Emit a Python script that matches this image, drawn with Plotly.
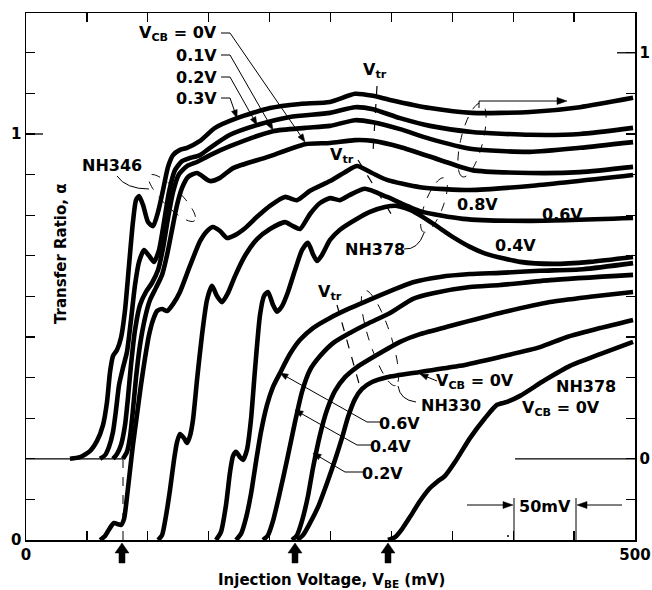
import numpy as np
import plotly.graph_objects as go

# ---------------- data: injection voltage V_BE (mV) vs transfer ratio alpha ----------------
# NH346 family (read against the right-hand axis)
v346_03 = [36.1, 44.3, 52.5, 58.3, 63.2, 66.5, 69.0, 71.4, 74.7, 78.0, 81.3, 84.6, 87.8, 90.3, 92.8, 96.1, 100.2, 104.3, 108.4, 112.5, 116.6, 120.7, 126.4, 132.2, 142.9, 155.2, 173.2, 200.3, 225.0, 249.6, 270.1, 284.9, 298.9, 331.7, 366.2, 413.8, 454.8, 498.4]
a346_03 = [0.0, 0.004, 0.019, 0.044, 0.083, 0.140, 0.214, 0.253, 0.268, 0.298, 0.366, 0.477, 0.583, 0.637, 0.647, 0.625, 0.583, 0.573, 0.608, 0.662, 0.719, 0.748, 0.761, 0.766, 0.783, 0.815, 0.839, 0.864, 0.874, 0.879, 0.899, 0.894, 0.884, 0.864, 0.852, 0.854, 0.866, 0.889]

v346_02 = [60.8, 64.9, 68.1, 71.4, 73.9, 76.4, 79.6, 82.9, 86.2, 89.5, 92.8, 96.9, 101.0, 105.1, 109.2, 113.3, 117.4, 122.3, 128.1, 134.6, 142.9, 151.1, 167.5, 189.7, 216.7, 249.6, 270.1, 284.9, 307.1, 331.7, 366.2, 413.8, 454.8, 498.4]
a346_02 = [0.0, 0.009, 0.029, 0.066, 0.120, 0.182, 0.224, 0.263, 0.342, 0.428, 0.485, 0.514, 0.500, 0.485, 0.514, 0.583, 0.657, 0.711, 0.733, 0.741, 0.748, 0.766, 0.798, 0.822, 0.842, 0.852, 0.866, 0.861, 0.839, 0.820, 0.805, 0.798, 0.800, 0.815]

v346_01 = [71.4, 74.7, 78.0, 81.3, 83.7, 86.2, 89.5, 93.6, 98.5, 103.4, 108.4, 112.5, 116.6, 120.7, 125.6, 132.2, 140.4, 151.1, 167.5, 202.8, 229.1, 249.6, 270.1, 284.9, 307.1, 331.7, 366.2, 413.8, 454.8, 498.4]
a346_01 = [0.0, 0.012, 0.034, 0.083, 0.150, 0.231, 0.317, 0.379, 0.411, 0.433, 0.465, 0.519, 0.593, 0.657, 0.701, 0.721, 0.731, 0.748, 0.770, 0.807, 0.815, 0.820, 0.834, 0.829, 0.812, 0.788, 0.763, 0.756, 0.766, 0.780]

v346_00 = [79.6, 82.9, 85.4, 87.8, 90.3, 93.6, 97.7, 101.8, 106.7, 111.7, 115.8, 119.9, 124.0, 128.1, 133.0, 140.4, 151.1, 159.3, 170.0, 197.9, 229.1, 249.6, 270.1, 284.9, 307.1, 339.9, 366.2, 413.8, 454.8, 498.4]
a346_00 = [0.0, 0.017, 0.054, 0.120, 0.199, 0.280, 0.347, 0.391, 0.421, 0.453, 0.502, 0.564, 0.625, 0.667, 0.694, 0.704, 0.684, 0.692, 0.716, 0.743, 0.775, 0.778, 0.785, 0.783, 0.768, 0.736, 0.711, 0.704, 0.706, 0.719]

# NH378 family (left-hand axis)
v378_08 = [60.8, 64.9, 69.0, 72.2, 75.5, 78.0, 80.5, 82.9, 85.4, 87.8, 91.1, 94.4, 97.7, 101.0, 104.3, 107.6, 111.7, 115.8, 120.7, 126.4, 134.6, 142.9, 148.6, 153.5, 159.3, 165.0, 171.6, 179.8, 189.7, 200.3, 212.6, 222.5, 233.2, 249.6, 261.9, 271.8, 284.1, 296.4, 323.5, 364.5, 413.8, 498.4]
a378_08 = [0.0, 0.010, 0.030, 0.042, 0.039, 0.037, 0.052, 0.106, 0.172, 0.234, 0.308, 0.382, 0.448, 0.505, 0.542, 0.564, 0.569, 0.564, 0.581, 0.611, 0.675, 0.736, 0.761, 0.771, 0.761, 0.744, 0.751, 0.768, 0.796, 0.823, 0.845, 0.837, 0.860, 0.884, 0.906, 0.921, 0.904, 0.887, 0.869, 0.862, 0.872, 0.899]

v378_06 = [108.4, 111.7, 114.9, 118.2, 121.5, 124.0, 126.4, 129.7, 132.2, 134.6, 137.1, 140.4, 144.5, 148.6, 152.7, 156.8, 160.9, 165.8, 171.6, 179.8, 189.7, 200.3, 212.6, 219.2, 225.0, 233.2, 241.4, 249.6, 257.8, 266.0, 278.3, 296.4, 323.5, 358.8, 413.8, 498.4]
a378_06 = [0.0, 0.012, 0.059, 0.123, 0.197, 0.241, 0.261, 0.251, 0.239, 0.256, 0.296, 0.394, 0.505, 0.591, 0.626, 0.601, 0.586, 0.608, 0.650, 0.700, 0.741, 0.766, 0.783, 0.773, 0.766, 0.803, 0.830, 0.842, 0.837, 0.850, 0.865, 0.845, 0.810, 0.791, 0.786, 0.793]

v378_04 = [156.0, 160.1, 164.2, 167.5, 170.0, 172.4, 175.7, 178.2, 181.4, 184.7, 188.0, 192.1, 195.4, 198.7, 202.8, 206.1, 210.2, 215.1, 220.9, 226.6, 231.5, 235.6, 238.9, 243.0, 249.6, 257.8, 270.1, 282.4, 294.7, 304.6, 315.3, 323.5, 335.8, 350.6, 364.5, 378.5, 405.6, 432.7, 463.1, 498.4]
a378_04 = [0.0, 0.020, 0.086, 0.167, 0.207, 0.217, 0.204, 0.197, 0.222, 0.296, 0.419, 0.554, 0.601, 0.611, 0.579, 0.562, 0.576, 0.611, 0.665, 0.714, 0.732, 0.704, 0.687, 0.702, 0.739, 0.764, 0.788, 0.808, 0.820, 0.823, 0.813, 0.800, 0.776, 0.746, 0.722, 0.704, 0.685, 0.680, 0.685, 0.697]

v378_00 = [297.2, 303.0, 308.7, 315.3, 323.5, 331.7, 337.4, 344.0, 352.2, 364.5, 376.8, 386.7, 394.9, 405.6, 426.1, 446.6, 471.3, 498.4]
a378_00 = [0.0, 0.007, 0.027, 0.057, 0.096, 0.128, 0.143, 0.158, 0.192, 0.251, 0.300, 0.333, 0.340, 0.355, 0.394, 0.429, 0.458, 0.488]

# NH330 family (left-hand axis)
v330_06 = [172.4, 176.5, 180.6, 184.7, 188.8, 192.9, 197.9, 202.8, 208.5, 216.7, 225.0, 235.6, 249.6, 266.0, 280.0, 298.9, 317.7, 339.9, 364.5, 389.2, 422.0, 457.3, 498.4]
a330_06 = [0.0, 0.015, 0.054, 0.113, 0.192, 0.266, 0.333, 0.377, 0.411, 0.458, 0.493, 0.522, 0.547, 0.571, 0.589, 0.613, 0.635, 0.648, 0.655, 0.658, 0.663, 0.667, 0.682]

v330_04 = [194.6, 198.7, 202.8, 208.5, 214.3, 220.9, 226.6, 233.2, 241.4, 252.1, 266.0, 280.0, 298.9, 317.7, 334.2, 364.5, 389.2, 430.2, 498.4]
a330_04 = [0.0, 0.012, 0.047, 0.118, 0.197, 0.291, 0.365, 0.419, 0.453, 0.485, 0.510, 0.532, 0.559, 0.594, 0.608, 0.623, 0.628, 0.640, 0.653]

v330_02 = [218.4, 222.5, 226.6, 231.5, 235.6, 241.4, 247.1, 253.7, 261.9, 271.8, 286.5, 307.1, 323.5, 348.1, 389.2, 430.2, 463.1, 498.4]
a330_02 = [0.0, 0.012, 0.047, 0.108, 0.177, 0.259, 0.320, 0.367, 0.401, 0.426, 0.453, 0.488, 0.507, 0.527, 0.559, 0.586, 0.599, 0.611]

v330_00 = [222.5, 227.4, 233.2, 239.7, 247.1, 253.7, 259.4, 264.4, 270.1, 275.9, 284.1, 296.4, 323.5, 356.3, 389.2, 422.0, 444.2, 471.3, 498.4]
a330_00 = [0.0, 0.012, 0.042, 0.081, 0.140, 0.197, 0.251, 0.303, 0.347, 0.372, 0.389, 0.401, 0.414, 0.429, 0.451, 0.475, 0.500, 0.522, 0.542]

x_labelled = [0, 500]
x_ticklabels = ["0", "500"]
x_step = 50
y_labelled = [0, 1]
y_ticklabels = ["0", "1"]
y_step = 0.1

# ---------------- figure ----------------
# plotting area at page pixels x 26..635, y 13..540 (body margin removed via post_script)
PL, PR, PT, PB = 26, 635, 13, 540
W, H = 652, 590
XMAX = 500.0
YL = (0.0, 1.298)
YR = (-0.2, 1.098)

# layout helpers: page pixel -> data / paper coordinates (for annotations only)
def X(px):
    return (px - PL) / (PR - PL) * XMAX

def Y(py):
    return (PB - py) / (PB - PT) * (YL[1] - YL[0])

def PX(px):
    return (px - PL) / (PR - PL)

def PY(py):
    return (PB - py) / (PB - PT)

LW = 4.6
fig = go.Figure()
curves = [
    (v346_03, a346_03, "y2"), (v346_02, a346_02, "y2"), (v346_01, a346_01, "y2"), (v346_00, a346_00, "y2"),
    (v378_08, a378_08, "y"), (v378_06, a378_06, "y"), (v378_04, a378_04, "y"), (v378_00, a378_00, "y"),
    (v330_06, a330_06, "y"), (v330_04, a330_04, "y"), (v330_02, a330_02, "y"), (v330_00, a330_00, "y"),
]
for xs, ys, ax in curves:
    fig.add_trace(go.Scatter(x=xs, y=ys, yaxis=ax, mode="lines", hoverinfo="skip",
                             line=dict(color="black", width=LW, shape="spline", smoothing=0.6)))

FONT = dict(family="DejaVu Sans", size=15, color="black")
ann = []
shapes = []

def text(px, py, s, xanchor="center", size=16, angle=0):
    ann.append(dict(x=X(px), y=Y(py), xref="x", yref="y", text="<b>%s</b>" % s, showarrow=False,
                    xanchor=xanchor, yanchor="middle", textangle=angle,
                    font=dict(family="DejaVu Sans", size=size, color="black")))

def seg(x0, y0, x1, y1, dash="solid", width=1):
    shapes.append(dict(type="line", xref="x", yref="y", x0=X(x0), y0=Y(y0), x1=X(x1), y1=Y(y1),
                       line=dict(color="black", width=width, dash=dash)))

def arrow(tx, ty, hx, hy, hl=8.0, hw=3.0):
    d = np.array([hx - tx, hy - ty], dtype=float)
    d /= np.hypot(*d)
    n = np.array([-d[1], d[0]])
    bx, by = hx - d[0] * hl, hy - d[1] * hl
    seg(tx, ty, bx + d[0] * 1.5, by + d[1] * 1.5)
    pts = [(hx, hy), (bx + n[0] * hw, by + n[1] * hw), (bx - n[0] * hw, by - n[1] * hw)]
    path = "M " + " L ".join("%f,%f" % (X(u), Y(v)) for u, v in pts) + " Z"
    shapes.append(dict(type="path", xref="x", yref="y", path=path, fillcolor="black",
                       line=dict(color="black", width=0.5)))

def curve(p0, c, p1):
    shapes.append(dict(type="path", xref="x", yref="y",
                       path="M %f,%f Q %f,%f %f,%f" % (X(p0[0]), Y(p0[1]), X(c[0]), Y(c[1]), X(p1[0]), Y(p1[1])),
                       line=dict(color="black", width=1)))

def oval(cx, cy, a, b, deg):
    t = np.linspace(0, 2 * np.pi, 73)
    th = np.radians(deg)
    px = cx + a * np.cos(t) * np.cos(th) - b * np.sin(t) * np.sin(th)
    py = cy + a * np.cos(t) * np.sin(th) + b * np.sin(t) * np.cos(th)
    path = "M " + " L ".join("%f,%f" % (X(u), Y(v)) for u, v in zip(px, py)) + " Z"
    shapes.append(dict(type="path", xref="x", yref="y", path=path,
                       line=dict(color="black", width=1, dash="dash")))

# top-left V_CB labels for NH346 with leaders
for s, py, tip in [("V<sub>CB</sub> = 0V", 33, (305, 142)), ("0.1V", 55, (273, 130)),
                   ("0.2V", 77, (257, 125)), ("0.3V", 98, (237, 118))]:
    text(219, py, s, xanchor="right")
    seg(221, py, 230, py)
    arrow(230, py, tip[0], tip[1])

# NH346 label + oval
text(112, 165, "NH346")
curve((117, 176), (126, 189), (149, 189))
oval(172, 198, 32, 9, 45)

# V_tr markers
text(375, 70, "V<sub>tr</sub>")
seg(377, 86, 373, 152, dash="dash", width=1.2)
text(342, 155, "V<sub>tr</sub>")
seg(358, 160, 393, 217, dash="dash", width=1.2)
text(330, 292, "V<sub>tr</sub>")
seg(337, 305, 360, 387, dash="dash", width=1.2)

# right oval with arrow to right axis
oval(472, 140, 38, 11, 104)
seg(479, 108, 479, 101)
arrow(479, 101, 567, 101, hl=10, hw=3.5)

# NH378 oval and labels
oval(434, 205, 29, 9, 111)
text(375, 249, "NH378")
curve((404, 249), (418, 250), (424, 233))
text(477, 204, "0.8V")
text(562, 214, "0.6V")
text(515, 245, "0.4V")

# NH330 oval and labels
oval(380, 338, 50, 11, 72)
text(451, 405, "NH330")
curve((398, 386), (400, 400), (416, 402))
text(475, 381, "V<sub>CB</sub> = 0V")
arrow(437, 381, 420, 374)
for s, cx, py, x0, x1, tip in [("0.6V", 399, 423, 367, 381, (280, 373)),
                               ("0.4V", 390, 446, 357, 372, (295, 410)),
                               ("0.2V", 382, 473, 345, 364, (313, 453))]:
    text(cx, py, s)
    seg(x0, py - 1, x1, py - 1)
    arrow(x0, py - 1, tip[0], tip[1])

# NH378 V_CB = 0 label
text(586, 386, "NH378")
text(561, 408, "V<sub>CB</sub> = 0V")

# 50 mV scale marker
text(545, 506, "50mV")
seg(514, 498, 514, 540)
seg(576, 498, 576, 540)
arrow(467, 505, 513, 505, hl=10, hw=3.5)
arrow(622, 505, 577, 505, hl=10, hw=3.5)
shapes.append(dict(type="circle", xref="x", yref="y", x0=X(507), x1=X(509), y0=Y(537), y1=Y(535),
                   fillcolor="black", line=dict(width=0)))

# baselines for the NH346 (right-axis zero) and onset markers
shapes.append(dict(type="line", xref="x", yref="y2", x0=0, x1=X(123), y0=0, y1=0,
                   line=dict(color="black", width=1.3)))
shapes.append(dict(type="line", xref="x", yref="y2", x0=X(515), x1=XMAX, y0=0, y1=0,
                   line=dict(color="black", width=1.3)))
seg(123, 459, 123, 540, dash="dash", width=1)
# long ticks at "1"
shapes.append(dict(type="line", xref="x", yref="y", x0=0, x1=X(43), y0=1, y1=1,
                   line=dict(color="black", width=1.3)))
shapes.append(dict(type="line", xref="x", yref="y2", x0=X(617), x1=XMAX, y0=1, y1=1,
                   line=dict(color="black", width=1.3)))

# onset arrows below the axis
for cx in (122, 295, 388):
    pts = [(cx, 543), (cx + 7, 553), (cx + 3, 553), (cx + 3, 563), (cx - 3, 563), (cx - 3, 553), (cx - 7, 553)]
    path = "M " + " L ".join("%f,%f" % (PX(u), PY(v)) for u, v in pts) + " Z"
    shapes.append(dict(type="path", xref="paper", yref="paper", path=path, fillcolor="black",
                       line=dict(color="black", width=0.5)))

# axis titles
ann.append(dict(x=PX(331), y=PY(580), xref="paper", yref="paper", showarrow=False,
                text="<b>Injection Voltage, V<sub>BE</sub> (mV)</b>", font=FONT,
                xanchor="center", yanchor="middle"))
text(61, 254, "Transfer Ratio, α", size=15, angle=-90)

tickfont = dict(family="DejaVu Sans", size=15, color="black")
common = dict(ticks="inside", ticklen=9, tickwidth=1.3, tickcolor="black", showline=True,
              linecolor="black", linewidth=1.5, showgrid=False, zeroline=False, automargin=False,
              tickfont=tickfont)
minor = dict(ticks="inside", ticklen=9, tickwidth=1.3, tickcolor="black", showgrid=False)
fig.update_layout(
    width=W, height=H,
    margin=dict(l=PL, r=W - PR, t=PT, b=H - PB, autoexpand=False),
    paper_bgcolor="white", plot_bgcolor="white", showlegend=False,
    xaxis=dict(range=[0, XMAX], tickvals=x_labelled, ticktext=["<b>%s</b>" % t for t in x_ticklabels],
               mirror="ticks", minor=dict(tick0=0, dtick=x_step, **minor), **common),
    yaxis=dict(range=list(YL), tickvals=y_labelled, ticktext=["<b>%s</b>" % t for t in y_ticklabels],
               minor=dict(tick0=0, dtick=y_step, **minor), **common),
    yaxis2=dict(range=list(YR), overlaying="y", side="right", tickvals=y_labelled,
                ticktext=["<b>%s</b>" % t for t in y_ticklabels],
                minor=dict(tick0=0, dtick=y_step, **minor), **common),
    annotations=ann, shapes=shapes,
)
fig.write_html("out.html", config={"displayModeBar": False, "staticPlot": True},
               post_script="document.body.style.margin='0';document.body.style.overflow='hidden';")
